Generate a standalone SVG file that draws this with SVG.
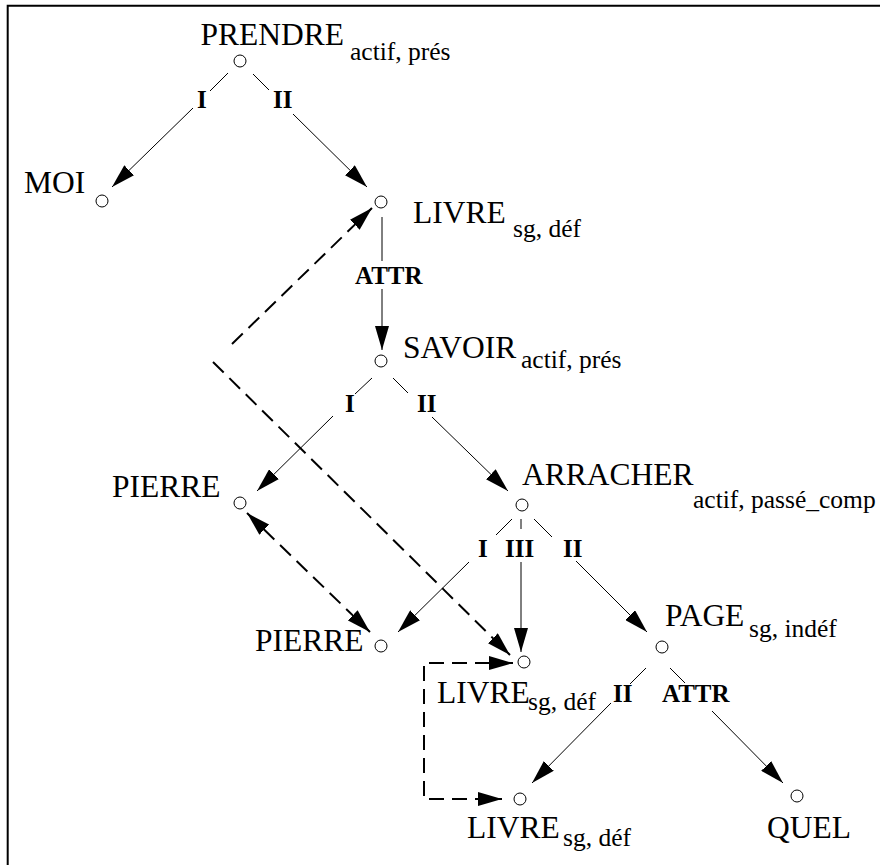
<svg xmlns="http://www.w3.org/2000/svg" width="880" height="865" viewBox="0 0 880 865">
  <style>
    .node circle { fill: #fff; stroke: #000; stroke-width: 1; }
    .lbl { font-family: "Liberation Serif", "Times New Roman", serif; font-size: 31.5px; fill: #000; }
    .sub { font-size: 25.5px; }
    .rel { font-family: "Liberation Serif", "Times New Roman", serif; font-weight: bold; font-size: 25px; fill: #000; }
    .edge { stroke: #000; stroke-width: 1; fill: none; }
    .coref { stroke: #000; stroke-width: 2; stroke-dasharray: 15 8; fill: none; }
  </style>
  <defs>
    <marker id="ah" markerUnits="userSpaceOnUse" viewBox="0 0 24 14" markerWidth="24" markerHeight="14" refX="24" refY="7" orient="auto-start-reverse">
      <path d="M0,0 L24,7 L0,14 z" fill="#000"/>
    </marker>
  </defs>

  <rect width="880" height="865" fill="#fff"/>
  <!-- frame (top and left rules) -->
  <path d="M7.7,865 V5.7 H880" fill="none" stroke="#000" stroke-width="2"/>

  <!-- dependency arcs: each split around its relation label -->
  <g id="connectors">
    <g id="e-prendre-moi">
      <path class="edge" d="M228,73 L210,91"/>
      <path class="edge" d="M193,108 L112,187" marker-end="url(#ah)"/>
      <text class="rel" x="197" y="108">I</text>
    </g>
    <g id="e-prendre-livre">
      <path class="edge" d="M253,74 L269,90"/>
      <path class="edge" d="M293,114 L367,187" marker-end="url(#ah)"/>
      <text class="rel" x="273" y="108">II</text>
    </g>
    <g id="e-livre-savoir">
      <path class="edge" d="M382,217 L382,261"/>
      <path class="edge" d="M382,289 L382,350" marker-end="url(#ah)"/>
      <text class="rel" x="355" y="284">ATTR</text>
    </g>
    <g id="e-savoir-pierre">
      <path class="edge" d="M372,378 L355,394"/>
      <path class="edge" d="M333,416 L257,491" marker-end="url(#ah)"/>
      <text class="rel" x="345" y="412">I</text>
    </g>
    <g id="e-savoir-arracher">
      <path class="edge" d="M393,378 L408,393"/>
      <path class="edge" d="M432,417 L508,491" marker-end="url(#ah)"/>
      <text class="rel" x="417" y="412">II</text>
    </g>
    <g id="e-arracher-pierre">
      <path class="edge" d="M512,519 L496,535"/>
      <path class="edge" d="M469,562 L398,632" marker-end="url(#ah)"/>
      <text class="rel" x="478" y="557">I</text>
    </g>
    <g id="e-arracher-livre">
      <path class="edge" d="M521,519 L521,529"/>
      <path class="edge" d="M521,562 L521,652" marker-end="url(#ah)"/>
      <text class="rel" x="505" y="557">III</text>
    </g>
    <g id="e-arracher-page">
      <path class="edge" d="M534,519 L552,537"/>
      <path class="edge" d="M576,561 L647,632" marker-end="url(#ah)"/>
      <text class="rel" x="563" y="557">II</text>
    </g>
    <g id="e-page-livre">
      <path class="edge" d="M646,668 L630,684"/>
      <path class="edge" d="M611,703 L532,783" marker-end="url(#ah)"/>
      <text class="rel" x="613" y="702">II</text>
    </g>
    <g id="e-page-quel">
      <path class="edge" d="M670,668 L685,683"/>
      <path class="edge" d="M712,711 L783,783" marker-end="url(#ah)"/>
      <text class="rel" x="662" y="702">ATTR</text>
    </g>

    <!-- coreference links (dashed) -->
    <path id="c-livre-1" class="coref" d="M232,344 L372,208" marker-end="url(#ah)"/>
    <path id="c-livre-2" class="coref" d="M213,362 L510,655" marker-end="url(#ah)"/>
    <path id="c-pierre" class="coref" d="M247,513 L370,632" marker-start="url(#ah)" marker-end="url(#ah)"/>
    <path id="c-livre-3" class="coref" d="M513,663 L424,663 L424,799 L502,799" marker-start="url(#ah)" marker-end="url(#ah)"/>
  </g>

  <g id="n-prendre" class="node">
    <circle cx="240" cy="61" r="6"/>
    <text class="lbl" x="200.5" y="45">PRENDRE</text>
    <text class="lbl sub" x="350" y="60">actif, prés</text>
  </g>
  <g id="n-moi" class="node">
    <circle cx="102" cy="201" r="6"/>
    <text class="lbl" x="24" y="193">MOI</text>
  </g>
  <g id="n-livre-1" class="node">
    <circle cx="381" cy="202" r="6"/>
    <text class="lbl" x="413" y="223">LIVRE</text>
    <text class="lbl sub" x="513" y="237">sg, déf</text>
  </g>
  <g id="n-savoir" class="node">
    <circle cx="381" cy="361" r="6"/>
    <text class="lbl" x="403" y="358">SAVOIR</text>
    <text class="lbl sub" x="521" y="368">actif, prés</text>
  </g>
  <g id="n-pierre-1" class="node">
    <circle cx="240" cy="503" r="6"/>
    <text class="lbl" x="112" y="497">PIERRE</text>
  </g>
  <g id="n-arracher" class="node">
    <circle cx="522" cy="505" r="6"/>
    <text class="lbl" x="522" y="485">ARRACHER</text>
    <text class="lbl sub" x="693" y="508">actif, passé_comp</text>
  </g>
  <g id="n-pierre-2" class="node">
    <circle cx="381" cy="646" r="6"/>
    <text class="lbl" x="255" y="651">PIERRE</text>
  </g>
  <g id="n-livre-2" class="node">
    <circle cx="524" cy="662" r="6"/>
    <text class="lbl" x="437" y="703">LIVRE</text>
    <text class="lbl sub" x="528" y="710">sg, déf</text>
  </g>
  <g id="n-page" class="node">
    <circle cx="662" cy="647" r="6"/>
    <text class="lbl" x="665" y="626">PAGE</text>
    <text class="lbl sub" x="749" y="637">sg, indéf</text>
  </g>
  <g id="n-livre-3" class="node">
    <circle cx="520" cy="799" r="6"/>
    <text class="lbl" x="467" y="838">LIVRE</text>
    <text class="lbl sub" x="563" y="846">sg, déf</text>
  </g>
  <g id="n-quel" class="node">
    <circle cx="797" cy="796" r="6"/>
    <text class="lbl" x="767" y="838">QUEL</text>
  </g>
</svg>
